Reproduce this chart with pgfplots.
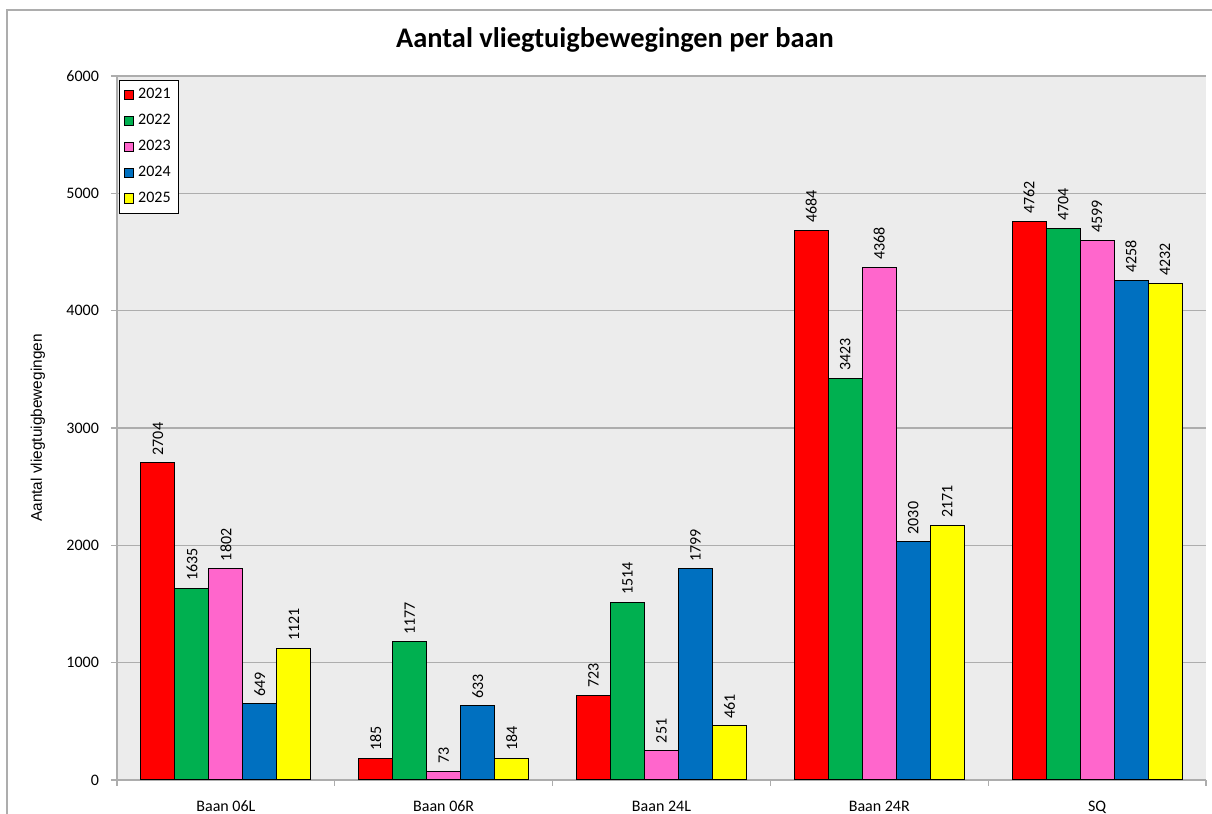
\documentclass[border=0pt]{standalone}
\usepackage{fontspec}
\setmainfont{Carlito}
\newfontfamily\arialf{Liberation Sans}
\usepackage{pgfplots}
\pgfplotsset{compat=1.18}
\definecolor{c21}{HTML}{FF0000}
\definecolor{c22}{HTML}{00B050}
\definecolor{c23}{HTML}{FF66CC}
\definecolor{c24}{HTML}{0070C0}
\definecolor{c25}{HTML}{FFFF00}
\definecolor{bg}{HTML}{ECECEC}
\definecolor{gridc}{HTML}{ADADAD}
\begin{document}
\begin{tikzpicture}
\useasboundingbox (-58.5pt,-17pt) rectangle (547.5pt,390pt);
\draw[gridc, line width=0.6pt] (-55pt,-17pt) -- (-55pt,385pt) -- (547.5pt,385pt);
\begin{axis}[
  at={(0pt,0pt)}, anchor=south west,
  scale only axis,
  width=544.5pt, height=352pt,
  ybar=0pt,
  bar width=0.156,
  xmin=-0.5, xmax=4.5,
  ymin=0, ymax=6000,
  ytick={0,1000,...,6000},
  xtick={0,1,2,3,4},
  xticklabels={Baan 06L,Baan 06R,Baan 24L,Baan 24R,SQ},
  minor xtick={-0.5,0.5,...,4.5},
  major x tick style={draw=none},
  minor tick length=3pt,
  major tick length=3pt,
  tick align=outside,
  tick style={gridc, line width=0.6pt},
  axis lines*=left,
  axis line style={gridc, line width=0.6pt},
  axis background/.style={fill=bg},
  ymajorgrids,
  grid style={gridc, line width=0.6pt},
  /pgf/number format/assume math mode=true,
  /pgf/number format/1000 sep={},
  ticklabel style={font=\fontsize{8}{9.6}\selectfont},
  yticklabel style={xshift=-2.5pt},
  xticklabel style={yshift=-4pt},
  ylabel={Aantal vliegtuigbewegingen},
  ylabel style={font=\arialf\fontsize{7.7}{9}\selectfont, at={(axis description cs:0,0.5)}, anchor=center, yshift=39.5pt},
  nodes near coords,
  every node near coord/.append style={rotate=90, anchor=west, font=\fontsize{8}{9.6}\selectfont, inner sep=3.5pt, black},
  legend style={at={(rel axis cs:0,1)}, anchor=north west, xshift=1pt, yshift=-2pt,
     font=\fontsize{8}{9.6}\selectfont, draw=black, line width=0.6pt, row sep=2.2pt, inner sep=2pt, cells={anchor=west}},
  legend image code/.code={\draw[#1, line width=0.5pt] (0pt,-2.3pt) rectangle (4.8pt,2.3pt);},
  every axis plot/.append style={draw=black, line width=0.5pt},
]
\addplot[fill=c21] coordinates {(0,2704) (1,185) (2,723) (3,4684) (4,4762)};
\addplot[fill=c22] coordinates {(0,1635) (1,1177) (2,1514) (3,3423) (4,4704)};
\addplot[fill=c23] coordinates {(0,1802) (1,73) (2,251) (3,4368) (4,4599)};
\addplot[fill=c24] coordinates {(0,649) (1,633) (2,1799) (3,2030) (4,4258)};
\addplot[fill=c25] coordinates {(0,1121) (1,184) (2,461) (3,2171) (4,4232)};
\legend{2021,2022,2023,2024,2025}
\end{axis}
\node[font=\bfseries\fontsize{14.2}{17}\selectfont] at (249pt,370pt) {Aantal vliegtuigbewegingen per baan};
\end{tikzpicture}
\end{document}
